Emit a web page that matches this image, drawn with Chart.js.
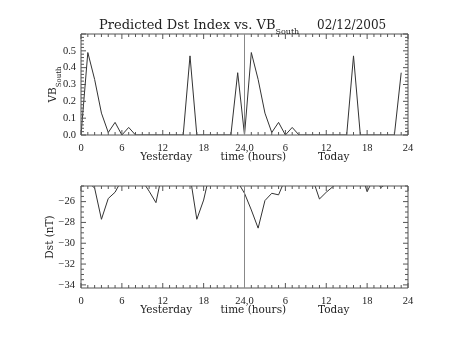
<!DOCTYPE html>
<html>
<head>
<meta charset="utf-8">
<script src="https://cdn.jsdelivr.net/npm/chart.js@4"></script>
<style>
  body { margin: 0; background: #fff; }
  .box { position: absolute; left: 0; width: 453px; height: 170px; }
</style>
</head>
<body>
<div class="box" style="top:0"><canvas id="vbPlot"></canvas></div>
<div class="box" style="top:170px"><canvas id="dstPlot"></canvas></div>
<script>
// hours since start of yesterday
var hours = [0, 1, 2, 3, 4, 5, 6, 7, 8, 9, 10, 11, 12, 13, 14, 15, 16, 17, 18, 19, 20, 21, 22, 23,
             24, 25, 26, 27, 28, 29, 30, 31, 32, 33, 34, 35, 36, 37, 38, 39, 40, 41, 42, 43, 44, 45, 46, 47];

var vbYesterday = [0, 0.49, 0.33, 0.13, 0.015, 0.075, 0, 0.045, 0, 0, 0, 0,
                   0, 0, 0, 0, 0.47, 0, 0, 0, 0, 0, 0, 0.37];
var vbToday = [0, 0.49, 0.33, 0.13, 0.015, 0.075, 0, 0.045, 0, 0, 0, 0,
               0, 0, 0, 0, 0.47, 0, 0, 0, 0, 0, 0, 0.37];

var dstYesterday = [-24.0, -24.1, -24.7, -27.7, -25.7, -25.1, -23.9, -24.0, -24.0, -24.0, -25.0, -26.1,
                    -23.0, -24.0, -24.0, -24.0, -23.5, -27.7, -25.85, -23.0, -24.0, -24.0, -24.0, -24.1];
var dstToday = [-25.2, -26.8, -28.55, -25.9, -25.2, -25.35, -23.8, -24.0, -24.0, -24.0, -23.8, -25.75,
                -25.1, -24.55, -24.0, -24.0, -24.0, -23.0, -25.05, -23.7, -24.65, -24.2, -24.0, -24.0];

var xTickValues = [0, 6, 12, 18, 24, 30, 36, 42, 48];
var xTickLabels = ['0', '6', '12', '18', '24,0', '6', '12', '18', '24'];
var vbTicks = [0, 0.1, 0.2, 0.3, 0.4, 0.5];
var dstTicks = [-34, -32, -30, -28, -26];
var xWords = ['Yesterday', 'time (hours)', 'Today'];


var ink = '#222';
var tickFont = { family: '"Liberation Serif"', size: 10.5 };

function toPoints(vals) {
  return vals.map(function (v, i) { return { x: hours[i], y: v }; });
}

// IDL style box: frame, inward ticks on all sides, divider at 24h, axis words
const idlFrame = {
  id: 'idlFrame',
  afterDatasetsDraw(chart, args, opts) {
    const c = chart.ctx, a = chart.chartArea, x = chart.scales.x, y = chart.scales.y;
    c.save();
    c.strokeStyle = '#555';
    c.lineWidth = 1;
    c.beginPath();
    c.rect(a.left, a.top, a.right - a.left, a.bottom - a.top);
    for (let h = 0; h <= 48; h++) {
      const px = x.getPixelForValue(h);
      const len = h % 6 === 0 ? 5 : 3;
      c.moveTo(px, a.bottom); c.lineTo(px, a.bottom - len);
      c.moveTo(px, a.top); c.lineTo(px, a.top + len);
    }
    const k0 = Math.ceil(y.min / opts.minor - 1e-6), k1 = Math.floor(y.max / opts.minor + 1e-6);
    for (let k = k0; k <= k1; k++) {
      const v = k * opts.minor;
      const r = v / opts.major;
      const len = Math.abs(r - Math.round(r)) < 1e-6 ? 5 : 3;
      const py = y.getPixelForValue(v);
      c.moveTo(a.left, py); c.lineTo(a.left + len, py);
      c.moveTo(a.right, py); c.lineTo(a.right - len, py);
    }
    c.stroke();

    c.strokeStyle = '#888';
    c.beginPath();
    c.moveTo(x.getPixelForValue(24), a.top);
    c.lineTo(x.getPixelForValue(24), a.bottom);
    c.stroke();

    c.fillStyle = ink;
    c.font = '10.5px "DejaVu Serif"';
    c.textAlign = 'center';
    c.textBaseline = 'alphabetic';
    [12.5, 25.3, 37.1].forEach(function (h, i) {
      c.fillText(xWords[i], x.getPixelForValue(h), a.bottom + 25);
    });

    // y axis title, rotated
    c.translate(opts.titleX, (a.top + a.bottom) / 2);
    c.rotate(-Math.PI / 2);
    c.textAlign = 'left';
    c.font = '10.5px "DejaVu Serif"';
    const w = c.measureText(opts.yTitle).width;
    const ws = opts.ySub ? (c.font = '7px "DejaVu Serif"', c.measureText(opts.ySub).width) : 0;
    c.font = '10.5px "DejaVu Serif"';
    c.fillText(opts.yTitle, -(w + ws) / 2, 0);
    if (opts.ySub) {
      c.font = '7px "DejaVu Serif"';
      c.fillText(opts.ySub, -(w + ws) / 2 + w, 5);
    }
    c.restore();

    if (opts.title) {
      c.save();
      c.fillStyle = ink;
      c.font = '13px "DejaVu Serif"';
      c.fillText('Predicted Dst Index vs. VB', 99, 29);
      const tw = c.measureText('Predicted Dst Index vs. VB').width;
      c.font = '8px "DejaVu Serif"';
      c.fillText('South', 99 + tw, 34);
      c.font = '12px "DejaVu Serif"';
      c.fillText('02/12/2005', 317, 29);
      c.restore();
    }
  }
};

function xScale(h) {
  return {
    type: 'linear', min: 0, max: 48,
    grid: { display: false, drawTicks: false },
    border: { display: false },
    afterBuildTicks: function (s) { s.ticks = xTickValues.map(function (v) { return { value: v }; }); },
    afterFit: function (s) { s.height = h; },
    ticks: {
      autoSkip: false, maxRotation: 0, padding: 7,
      font: tickFont, color: ink,
      callback: function (v, i) { return xTickLabels[i]; }
    }
  };
}

const vbChart = new Chart(document.getElementById('vbPlot').getContext('2d'), {
  type: 'line',
  data: {
    datasets: [{
      data: toPoints(vbYesterday.concat(vbToday)),
      borderColor: '#333',
      borderWidth: 1,
      pointRadius: 0,
      fill: false
    }]
  },
  plugins: [idlFrame],
  options: {
    animation: false,
    responsive: true,
    maintainAspectRatio: false,
    layout: { padding: { top: 34, right: 45, left: 0, bottom: 0 } },
    scales: {
      x: xScale(35),
      y: {
        min: 0, max: 0.6,
        grid: { display: false, drawTicks: false },
        border: { display: false },
        afterBuildTicks: function (s) { s.ticks = vbTicks.map(function (v) { return { value: v }; }); },
        afterFit: function (s) { s.width = 81; },
        ticks: {
          padding: 5, font: tickFont, color: ink,
          callback: function (v) { return v.toFixed(1); }
        }
      }
    },
    plugins: {
      legend: { display: false },
      tooltip: { enabled: false },
      idlFrame: { minor: 0.02, major: 0.1, titleX: 56, yTitle: 'VB', ySub: 'South', title: true }
    }
  }
});

const dstChart = new Chart(document.getElementById('dstPlot').getContext('2d'), {
  type: 'line',
  data: {
    datasets: [{
      data: toPoints(dstYesterday.concat(dstToday)),
      borderColor: '#333',
      borderWidth: 1,
      pointRadius: 0,
      fill: false
    }]
  },
  plugins: [idlFrame],
  options: {
    animation: false,
    responsive: true,
    maintainAspectRatio: false,
    layout: { padding: { top: 16, right: 45, left: 0, bottom: 0 } },
    scales: {
      x: xScale(52),
      y: {
        min: -34.3, max: -24.5,
        grid: { display: false, drawTicks: false },
        border: { display: false },
        afterBuildTicks: function (s) { s.ticks = dstTicks.map(function (v) { return { value: v }; }); },
        afterFit: function (s) { s.width = 81; },
        ticks: {
          padding: 6, font: tickFont, color: ink,
          callback: function (v) { return '\u2212' + Math.abs(v); }
        }
      }
    },
    plugins: {
      legend: { display: false },
      tooltip: { enabled: false },
      idlFrame: { minor: 0.5, major: 2, titleX: 53, yTitle: 'Dst (nT)', title: false }
    }
  }
});
</script>
</body>
</html>
